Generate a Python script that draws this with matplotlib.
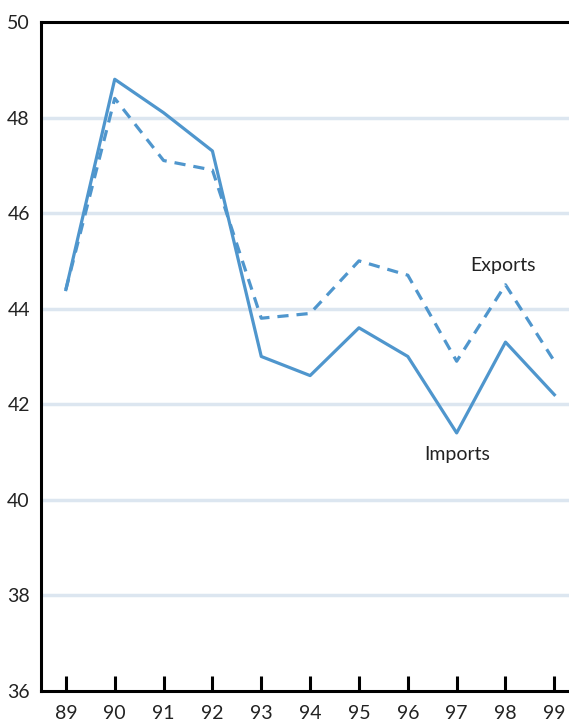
import matplotlib.pyplot as plt

years = [89, 90, 91, 92, 93, 94, 95, 96, 97, 98, 99]
year_labels = ['89', '90', '91', '92', '93', '94', '95', '96', '97', '98', '99']
imports = [44.4, 48.8, 48.1, 47.3, 43.0, 42.6, 43.6, 43.0, 41.4, 43.3, 42.2]
exports = [44.4, 48.4, 47.1, 46.9, 43.8, 43.9, 45.0, 44.7, 42.9, 44.5, 42.9]
y_ticks = [36, 38, 40, 42, 44, 46, 48, 50]

plt.rcParams['font.family'] = ['Lato', 'DejaVu Sans']

line_color = '#4f96cd'
grid_color = '#dce6f0'

fig = plt.figure(figsize=(5.69, 7.21), dpi=100)
ax = fig.add_axes([0.072, 0.0416, 0.928, 0.928])

for y in y_ticks[1:-1]:
    ax.axhline(y, color=grid_color, lw=2.5, zorder=0)

ax.plot(years, imports, color=line_color, lw=2.3)
ax.plot(years, exports, color=line_color, lw=2.3, ls=(0, (3.5, 2.5)))

ax.text(97.95, 44.9, 'Exports', fontsize=14, ha='center', va='center', color='#222222')
ax.text(97.02, 40.95, 'Imports', fontsize=14, ha='center', va='center', color='#222222')

ax.set_xlim(88.49, 99.3)
ax.set_ylim(36, 50)
ax.set_xticks(years)
ax.set_xticklabels(year_labels, fontsize=14)
ax.set_yticks(y_ticks)
ax.set_yticklabels([str(y) for y in y_ticks], fontsize=14)

ax.spines['right'].set_visible(False)
for s in ['left', 'bottom', 'top']:
    ax.spines[s].set_linewidth(2.2)
    ax.spines[s].set_color('black')
ax.tick_params(axis='x', direction='in', length=11, width=2.2, pad=10, colors='black', labelcolor='#222222')
ax.tick_params(axis='y', length=0, pad=8, labelcolor='#222222')

fig.savefig('out.png', dpi=100)
